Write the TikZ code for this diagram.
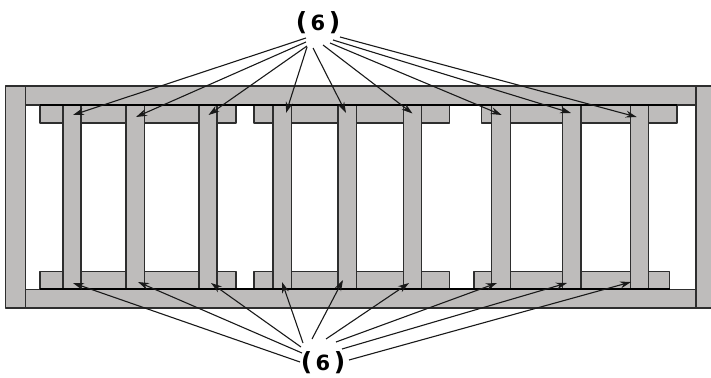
\documentclass[tikz,border=0pt]{standalone}
\usepackage{fontspec}
\setmainfont{DejaVu Sans}
\usetikzlibrary{arrows.meta}
\definecolor{woodgray}{HTML}{BEBCBB}
\definecolor{inkline}{HTML}{2E2E2E}
\newcommand{\tagtext}{{\fontsize{25}{27}\selectfont(}{\fontsize{21}{24}\selectfont\,6\,}{\fontsize{25}{27}\selectfont)}}
\tikzset{
  member/.style={draw=inkline,fill=woodgray,line width=1.1pt,line join=round},
  seam/.style={draw=black,line width=2pt},
  callout/.style={draw=black!90,line width=1.1pt,-{Stealth[length=11pt,width=7pt]}},
  tag/.style={font=\bfseries,inner sep=0pt,text=black}
}
\begin{document}
\begin{tikzpicture}[x=1pt,y=-1pt]
\useasboundingbox (0,0) rectangle (711,377);
% rails
\draw[member] (25.5,86) rectangle (696,105);
\draw[member] (25.5,289.5) rectangle (696,308);
% posts
\draw[member] (5.5,86) rectangle (25.5,308);
\draw[member] (696,86) rectangle (716,308);
% cross blocks
\foreach \a/\b in {40/236,254/449.5,481.7/677}
  \draw[member] (\a,105.5) rectangle (\b,123);
\foreach \a/\b in {40/236,254/449.5,474/669.7}
  \draw[member] (\a,271.7) rectangle (\b,289);
% uprights
\foreach \a/\b in {63/81,126/144.7,199/217,273/291.5,338/356.5,403.7/421.7,491.7/510.3,562.3/581,630.3/648.7}
  \draw[member] (\a,105.5) rectangle (\b,289);
% heavy seams
\draw[seam] (40,105.5) -- (677,105.5);
\draw[seam] (40,289) -- (670,289);
% labels
\node[tag] (tt) at (318,23) {\tagtext};
\node[tag] (tb) at (323,362.5) {\tagtext};
% upper callouts
\foreach \n/\sx/\sy/\ex/\ey in {
  1/306/38/73/115, 2/306/42/136/117, 3/307/46/208.5/115,
  4/307/47/286/113, 5/313/48/346/113, 6/323/45/412.5/113.5,
  7/330/43/501.7/115, 8/333/40/571/113, 9/340/37/636.7/117}{
  \coordinate (us\n) at (\sx,\sy);
  \coordinate (ue\n) at (\ex,\ey);
  \draw[callout] (us\n) -- (ue\n);
}
% lower callouts
\foreach \n/\sx/\sy/\ex/\ey in {
  1/300/362/73/283, 2/302/353/138/282, 3/301/347/211/283,
  4/303/343/282/282, 5/312/339/343/280, 6/326/339/409/283,
  7/336/342/497/283, 8/342/349/567/283, 9/349/360/631/282}{
  \coordinate (ls\n) at (\sx,\sy);
  \coordinate (le\n) at (\ex,\ey);
  \draw[callout] (ls\n) -- (le\n);
}
\end{tikzpicture}
\end{document}
